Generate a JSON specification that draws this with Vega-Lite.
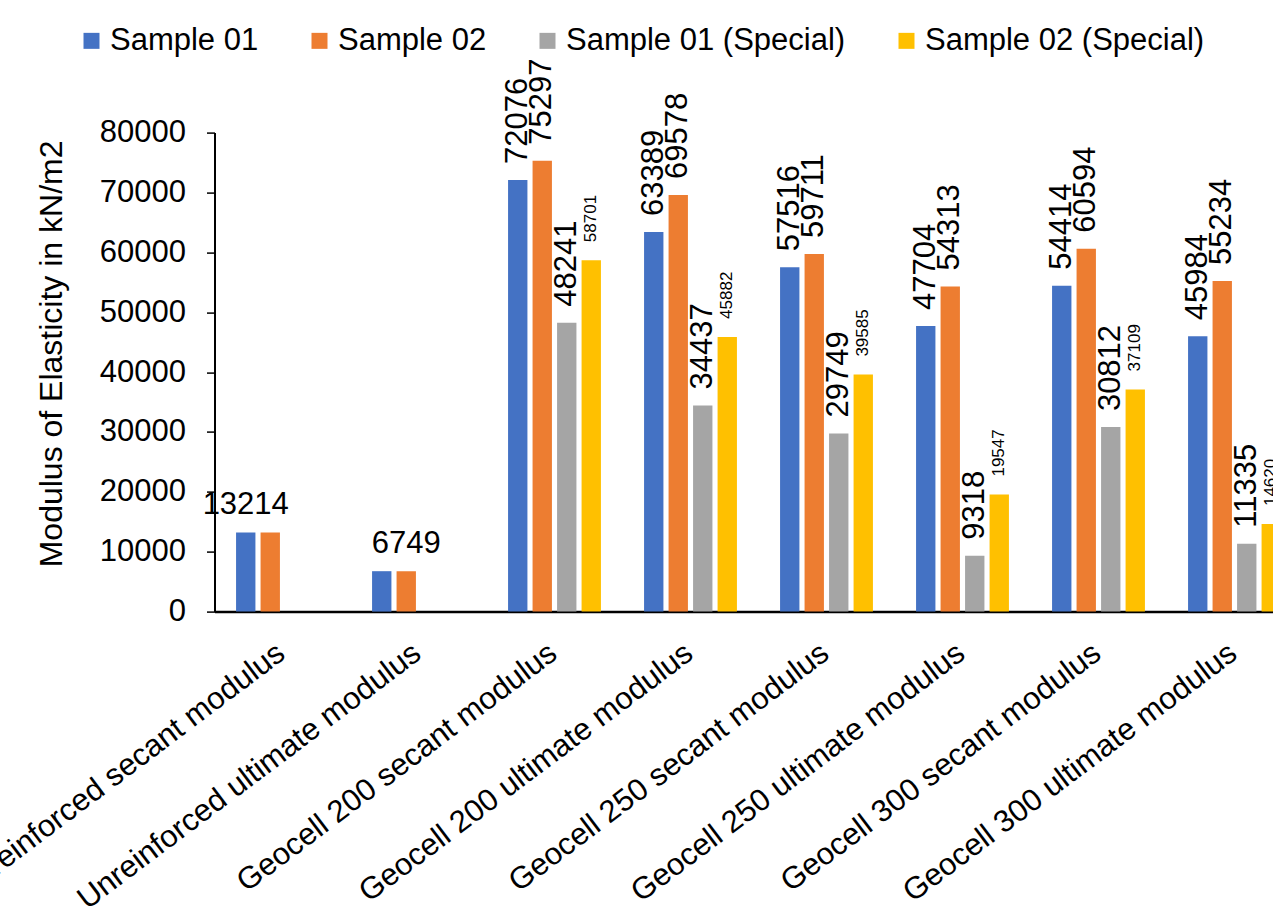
{
  "$schema": "https://vega.github.io/schema/vega-lite/v6.json",
  "width": 1058.5,
  "height": 479,
  "autosize": {"type": "none"},
  "padding": {"left": 214.5, "top": 132.6, "right": 0, "bottom": 300.4},
  "background": "white",
  "config": {"view": {"stroke": null}, "font": "Liberation Sans"},
  "data": {
    "values": [
      {"category": "Unreinforced secant modulus", "series": "Sample 01", "value": 13214},
      {"category": "Unreinforced secant modulus", "series": "Sample 02", "value": 13214},
      {"category": "Unreinforced ultimate modulus", "series": "Sample 01", "value": 6749},
      {"category": "Unreinforced ultimate modulus", "series": "Sample 02", "value": 6749},
      {"category": "Geocell 200 secant modulus", "series": "Sample 01", "value": 72076},
      {"category": "Geocell 200 secant modulus", "series": "Sample 02", "value": 75297},
      {"category": "Geocell 200 secant modulus", "series": "Sample 01 (Special)", "value": 48241},
      {"category": "Geocell 200 secant modulus", "series": "Sample 02 (Special)", "value": 58701},
      {"category": "Geocell 200 ultimate modulus", "series": "Sample 01", "value": 63389},
      {"category": "Geocell 200 ultimate modulus", "series": "Sample 02", "value": 69578},
      {"category": "Geocell 200 ultimate modulus", "series": "Sample 01 (Special)", "value": 34437},
      {"category": "Geocell 200 ultimate modulus", "series": "Sample 02 (Special)", "value": 45882},
      {"category": "Geocell 250 secant modulus", "series": "Sample 01", "value": 57516},
      {"category": "Geocell 250 secant modulus", "series": "Sample 02", "value": 59711},
      {"category": "Geocell 250 secant modulus", "series": "Sample 01 (Special)", "value": 29749},
      {"category": "Geocell 250 secant modulus", "series": "Sample 02 (Special)", "value": 39585},
      {"category": "Geocell 250 ultimate modulus", "series": "Sample 01", "value": 47704},
      {"category": "Geocell 250 ultimate modulus", "series": "Sample 02", "value": 54313},
      {"category": "Geocell 250 ultimate modulus", "series": "Sample 01 (Special)", "value": 9318},
      {"category": "Geocell 250 ultimate modulus", "series": "Sample 02 (Special)", "value": 19547},
      {"category": "Geocell 300 secant modulus", "series": "Sample 01", "value": 54414},
      {"category": "Geocell 300 secant modulus", "series": "Sample 02", "value": 60594},
      {"category": "Geocell 300 secant modulus", "series": "Sample 01 (Special)", "value": 30812},
      {"category": "Geocell 300 secant modulus", "series": "Sample 02 (Special)", "value": 37109},
      {"category": "Geocell 300 ultimate modulus", "series": "Sample 01", "value": 45984},
      {"category": "Geocell 300 ultimate modulus", "series": "Sample 02", "value": 55234},
      {"category": "Geocell 300 ultimate modulus", "series": "Sample 01 (Special)", "value": 11335},
      {"category": "Geocell 300 ultimate modulus", "series": "Sample 02 (Special)", "value": 14620}
    ]
  },
  "encoding": {
    "x": {
      "field": "category",
      "type": "nominal",
      "sort": ["Unreinforced secant modulus", "Unreinforced ultimate modulus", "Geocell 200 secant modulus", "Geocell 200 ultimate modulus", "Geocell 250 secant modulus", "Geocell 250 ultimate modulus", "Geocell 300 secant modulus", "Geocell 300 ultimate modulus"],
      "scale": {"range": [0, 1088], "paddingInner": 0, "paddingOuter": 0},
      "axis": {
        "title": null,
        "labelAngle": -37,
        "labelAlign": "right",
        "labelBaseline": "top",
        "labelFont": "Liberation Sans",
        "labelFontSize": 31,
        "labelColor": "black",
        "labelPadding": 26,
        "labelOffset": -10,
        "labelLimit": 1000,
        "labelOverlap": false,
        "labelBound": false,
        "ticks": false,
        "domainColor": "black",
        "domainWidth": 2.5
      }
    },
    "xOffset": {
      "field": "series",
      "type": "nominal",
      "sort": ["Sample 01", "Sample 02", "Sample 01 (Special)", "Sample 02 (Special)"],
      "scale": {"paddingInner": 0.21, "paddingOuter": 0.88}
    },
    "y": {
      "field": "value",
      "type": "quantitative",
      "scale": {"domain": [0, 80000], "nice": false},
      "axis": {
        "title": "Modulus of Elasticity in kN/m2",
        "values": [0, 10000, 20000, 30000, 40000, 50000, 60000, 70000, 80000],
        "format": "d",
        "grid": false,
        "labelFont": "Liberation Sans",
        "labelFontSize": 31,
        "labelColor": "black",
        "labelPadding": 21,
        "tickSize": 8,
        "tickColor": "black",
        "tickWidth": 1.5,
        "domainColor": "black",
        "domainWidth": 2,
        "titleFont": "Liberation Sans",
        "titleFontSize": 32,
        "titleFontWeight": "normal",
        "titleColor": "black",
        "titleX": -163.5,
        "titleY": 220.8,
        "titleAngle": -90,
        "titleAlign": "center",
        "titleBaseline": "middle"
      }
    }
  },
  "layer": [
    {
      "mark": {"type": "bar"},
      "encoding": {
        "color": {
          "field": "series",
          "type": "nominal",
          "scale": {
            "domain": ["Sample 01", "Sample 02", "Sample 01 (Special)", "Sample 02 (Special)"],
            "range": ["#4472C4", "#ED7D31", "#A5A5A5", "#FFC000"]
          },
          "legend": {
            "orient": "none",
            "legendX": -138.5,
            "legendY": -107.5,
            "direction": "horizontal",
            "columns": 4,
            "title": null,
            "symbolType": "square",
            "symbolSize": 256,
            "symbolStrokeWidth": 0,
            "symbolOpacity": 1,
            "labelFont": "Liberation Sans",
            "labelFontSize": 31,
            "labelColor": "black",
            "labelOffset": 3,
            "columnPadding": 45,
            "labelLimit": 1000,
            "padding": 0
          }
        }
      }
    },
    {
      "transform": [
        {"filter": "(datum.category === 'Unreinforced secant modulus' && datum.series === 'Sample 01') || (datum.category === 'Unreinforced ultimate modulus' && datum.series === 'Sample 02')"}
      ],
      "mark": {"type": "text", "font": "Liberation Sans", "fontSize": 31, "color": "black", "align": "center", "baseline": "alphabetic", "dy": -18},
      "encoding": {"text": {"field": "value", "type": "quantitative", "format": "d"}}
    },
    {
      "transform": [
        {"filter": "indexof(datum.category, 'Geocell') === 0 && datum.series !== 'Sample 02 (Special)'"}
      ],
      "mark": {"type": "text", "font": "Liberation Sans", "fontSize": 31, "color": "black", "angle": 270, "align": "left", "baseline": "middle", "dx": 16},
      "encoding": {"text": {"field": "value", "type": "quantitative", "format": "d"}}
    },
    {
      "transform": [
        {"filter": "datum.series === 'Sample 02 (Special)'"}
      ],
      "mark": {"type": "text", "font": "Liberation Sans", "fontSize": 17, "color": "black", "angle": 270, "align": "left", "baseline": "middle", "dx": 18},
      "encoding": {"text": {"field": "value", "type": "quantitative", "format": "d"}}
    }
  ]
}
